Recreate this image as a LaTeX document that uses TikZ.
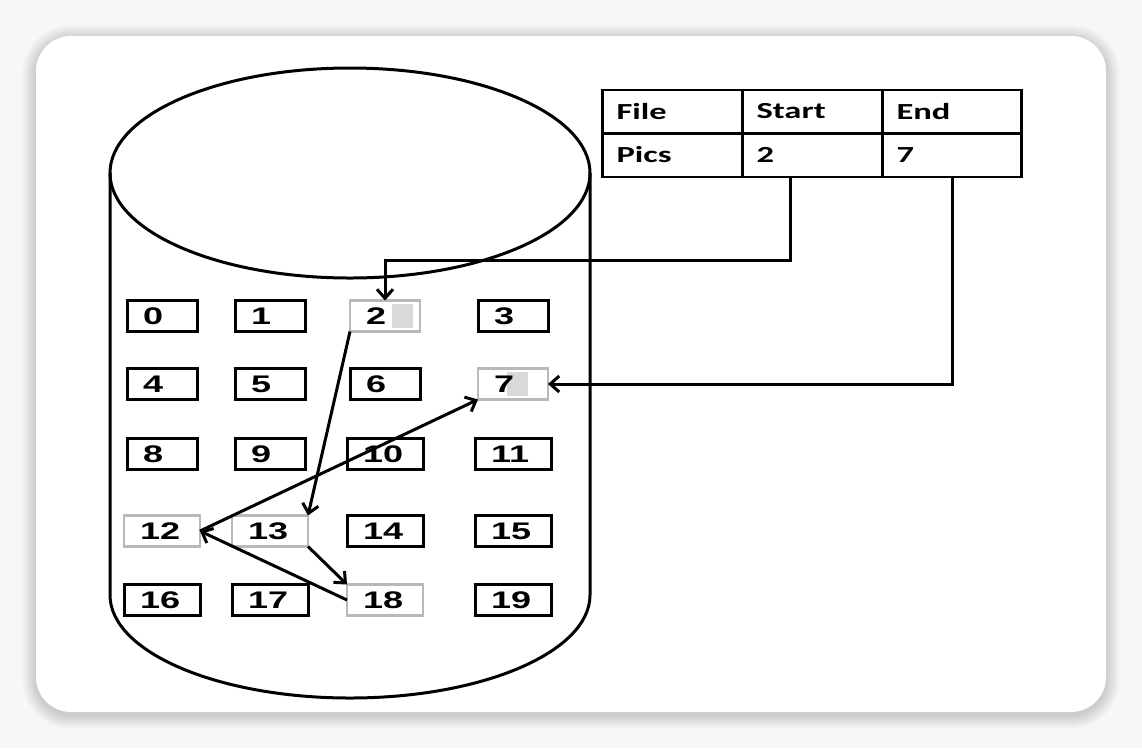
\documentclass[tikz,border=0pt]{standalone}
\usepackage{fontspec}
\usepackage{graphicx}
\usetikzlibrary{arrows.meta}
\setmainfont{Liberation Sans}
\newfontfamily\tabfont{Carlito}
\newcommand\wide[1]{\scalebox{1.5}[1]{#1}}
\begin{document}
\begin{tikzpicture}[x=1pt, y=-1pt, line width=3pt,
    blk/.style={draw, minimum height=31pt, inner xsep=16pt, inner ysep=0pt, outer sep=0pt,
      align=left, font=\fontsize{24}{24}\selectfont\bfseries},
    used/.style={blk, draw=gray!55, line width=2.5pt},
    cell/.style={draw, minimum width=140pt, minimum height=43.5pt, inner xsep=14pt,
      text width=112pt, align=left, outer sep=0pt, line width=2.5pt,
      font=\tabfont\bfseries\fontsize{23}{23}\selectfont},
    arr/.style={-{Straight Barb[length=9pt, width=16pt]}, line width=3pt}]
  % backdrop and card
  \fill [gray!6] (0,0) rectangle (1142,748);
  \foreach \i in {1,...,14}
    \fill [black, opacity=0.01, rounded corners=35+\i] (36-\i,36-\i+3) rectangle (1106+\i,712+\i+3);
  \fill [white, rounded corners=35] (36,36) rectangle (1106,712);
  % disk
  \draw (350,173) ellipse [x radius=240, y radius=105];
  \draw (110,173) -- (110,595) arc [start angle=180, end angle=0, x radius=240, y radius=103] -- (590,173);
  % blocks
  \foreach \n in {0,1,3,4,5,6,8,9,10,11,14,15,16,17,19} {
    \pgfmathsetmacro\xx{{162,270,385,513}[mod(\n,4)]}
    \pgfmathsetmacro\yy{{316,384,454,531,600}[int(\n/4)]}
    \pgfmathsetmacro\ww{\n<10 ? 38 : 44}
    \node [blk, text width=\ww pt] (b\n) at (\xx,\yy) {\wide{\n}};
  }
  % blocks of the file
  \fill [gray!30] (392,304) rectangle (413,328);
  \fill [gray!30] (507,372) rectangle (528,396);
  \foreach \n in {2,7,12,13,18} {
    \pgfmathsetmacro\xx{{162,270,385,513}[mod(\n,4)]}
    \pgfmathsetmacro\yy{{316,384,454,531,600}[int(\n/4)]}
    \pgfmathsetmacro\ww{\n<10 ? 38 : 44}
    \node [used, text width=\ww pt] (b\n) at (\xx,\yy) {\wide{\n}};
  }
  % directory table
  \node [cell] (tfile) at (672.5,111.5) {\wide{File}};
  \node [cell] (tstart) at (812.5,111.5) {\wide{Start}};
  \node [cell, minimum width=139pt, text width=111pt] (tend) at (952,111.5) {\wide{End}};
  \node [cell] (tname) at (672.5,155) {\wide{Pics}};
  \node [cell] (tfirst) at (812.5,155) {\wide{2}};
  \node [cell, minimum width=139pt, text width=111pt] (tlast) at (952,155) {\wide{7}};
  % pointers
  \coordinate (startout) at (790,177);
  \coordinate (endout) at (952,177);
  \draw [arr] (startout) -- ++(0,83) -| (b2.north);
  \draw [arr] (endout) |- (b7.east);
  \draw [arr] (b2.south west) -- (b13.north east);
  \draw [arr] (b13.south east) -- (b18.north west);
  \draw [arr] (b18.west) -- (b12.east);
  \draw [arr] (b12.east) -- (b7.south west);
\end{tikzpicture}
\end{document}
